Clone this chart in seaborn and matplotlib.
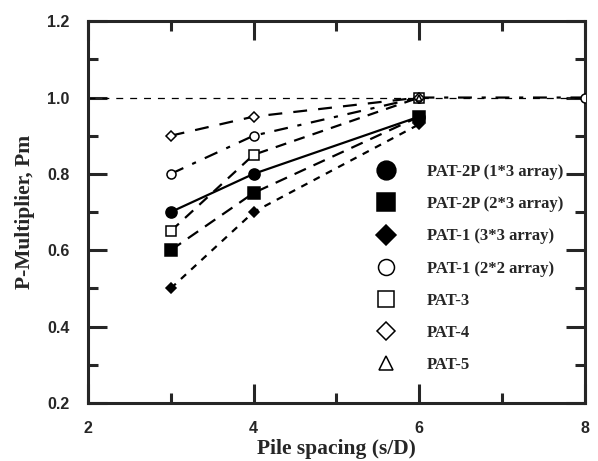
import numpy as np
import pandas as pd
import matplotlib
matplotlib.use("Agg")
import matplotlib.pyplot as plt
from matplotlib.lines import Line2D
from matplotlib.ticker import MultipleLocator
import seaborn as sns

# values
labels = ["PAT-2P (1*3 array)", "PAT-2P (2*3 array)", "PAT-1 (3*3 array)",
          "PAT-1 (2*2 array)", "PAT-3", "PAT-4", "PAT-5"]
spacing_2p_13 = [3, 4, 6]
pm_2p_13 = [0.70, 0.80, 0.95]
spacing_2p_23 = [3, 4, 6]
pm_2p_23 = [0.60, 0.75, 0.95]
spacing_1_33 = [3, 4, 6]
pm_1_33 = [0.50, 0.70, 0.93]
spacing_1_22 = [3, 4, 6, 8]
pm_1_22 = [0.80, 0.90, 1.00, 1.00]
spacing_3 = [3, 4, 6]
pm_3 = [0.65, 0.85, 1.00]
spacing_4 = [3, 4, 6]
pm_4 = [0.90, 0.95, 1.00]
spacing_5 = [6]
pm_5 = [1.00]

sns.set_style("ticks")
plt.rcParams["lines.scale_dashes"] = False

fig = plt.figure(figsize=(5.98, 4.61), dpi=100)
ax = fig.add_axes([0.147, 0.126, 0.831, 0.828])

serif_bold = dict(family="Liberation Serif", weight="bold")

# reference line at Pm = 1
ax.axhline(1.0, color="k", lw=0.9, ls=(0, (5, 5)), zorder=1)

series = [
    (spacing_2p_13, pm_2p_13, "o", "k", "-", 8),
    (spacing_2p_23, pm_2p_23, "s", "k", (0, (9, 6)), 8),
    (spacing_1_33, pm_1_33, "D", "k", (0, (5, 5)), 5.5),
    (spacing_1_22, pm_1_22, "o", "white", (0, (10, 7, 3, 7)), 6.5),
    (spacing_3, pm_3, "s", "white", (0, (8, 6)), 6.5),
    (spacing_4, pm_4, "D", "white", (0, (10, 8)), 5.5),
    (spacing_5, pm_5, "^", "white", "-", 4),
]
legend_sizes = [13.5, 12.5, 10.5, 11.5, 11, 9.5, 10]

for (xs, ys, mk, fc, ls, ms), lab in zip(series, labels):
    df = pd.DataFrame({"s": xs, "pm": ys})
    sns.lineplot(data=df, x="s", y="pm", ax=ax, color="k", lw=1.6,
                 linestyle=ls, marker=mk, markersize=ms,
                 markerfacecolor=fc, markeredgecolor="k",
                 markeredgewidth=1.1, legend=False, zorder=3)

handles = []
for (xs, ys, mk, fc, ls, ms), lab, big in zip(series, labels, legend_sizes):
    handles.append(Line2D([], [], ls="none", marker=mk, markersize=big,
                          markerfacecolor=fc, markeredgecolor="k",
                          markeredgewidth=1.1, label=lab))
ax.legend(handles=handles, loc="upper left", bbox_to_anchor=(0.552, 0.643),
          frameon=False, prop=dict(family="Liberation Serif", weight="bold", size=12),
          labelspacing=0.97, handletextpad=1.5, borderaxespad=0)

ax.set_xlim(2, 8)
ax.set_ylim(0.2, 1.2)
ax.xaxis.set_major_locator(MultipleLocator(2))
ax.xaxis.set_minor_locator(MultipleLocator(1))
ax.yaxis.set_major_locator(MultipleLocator(0.2))
ax.yaxis.set_minor_locator(MultipleLocator(0.1))
ax.tick_params(which="both", direction="in", top=True, right=True, width=2.2)
ax.tick_params(which="major", length=14, pad=13)
ax.tick_params(which="minor", length=7)
ax.set_xticks([2, 4, 6, 8])
ax.set_xticklabels(["2", "4", "6", "8"])
ax.set_yticks([0.2, 0.4, 0.6, 0.8, 1.0, 1.2])
ax.set_yticklabels(["0.2", "0.4", "0.6", "0.8", "1.0", "1.2"])
for t in ax.get_xticklabels() + ax.get_yticklabels():
    t.set_fontfamily("Liberation Sans")
    t.set_fontweight("bold")
    t.set_fontsize(11.5)
for sp in ax.spines.values():
    sp.set_linewidth(2.2)

ax.set_xlabel("Pile spacing (s/D)", fontsize=15.5, labelpad=2, **serif_bold)
ax.set_ylabel("P-Multiplier, Pm", fontsize=15.5, labelpad=9, **serif_bold)

fig.savefig("out.png", dpi=100)
